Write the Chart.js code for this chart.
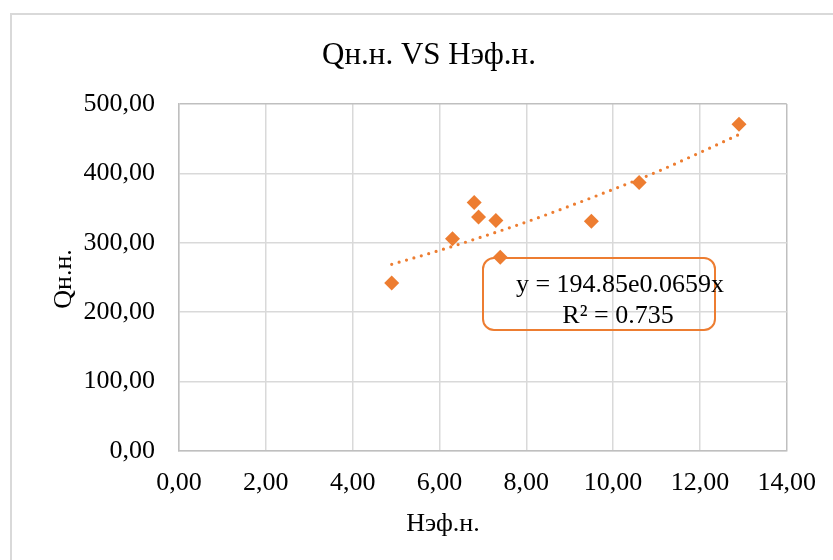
<!DOCTYPE html>
<html>
<head>
<meta charset="utf-8">
<script src="https://cdn.jsdelivr.net/npm/chart.js@4"></script>
<style>
    body { margin: 0; background: #fff; overflow: hidden; }
    #wrap { width: 833px; height: 560px; }
</style>
</head>
<body>
<div id="wrap"><canvas id="chart" width="833" height="560"></canvas></div>
<script>
// Data
const xValues = [4.9, 6.3, 6.8, 6.9, 7.3, 7.4, 9.5, 10.6, 12.9];
const yValues = [242, 306, 358, 337, 332, 279, 331, 387, 471];

// Trend line (exponential, as drawn)
const trendX = [4.9, 6, 7, 8, 9, 10, 11, 12, 12.9];
const trendY = [269, 289, 309, 330, 353, 377, 402, 430, 456];

const xTickLabels = ['0,00', '2,00', '4,00', '6,00', '8,00', '10,00', '12,00', '14,00'];
const yTickLabels = ['0,00', '100,00', '200,00', '300,00', '400,00', '500,00'];

const chartTitle = 'Qн.н. VS Нэф.н.';
const xTitle = 'Нэф.н.';
const yTitle = 'Qн.н.';
const equationLines = ['y = 194.85e0.0659x', 'R² = 0.735'];

const ORANGE = '#ED7D31';
const FONT = '"Liberation Serif", "Times New Roman", serif';

const gridColor = '#d9d9d9';
const edgeColor = '#bfbfbf';

// Excel-like decorations: outer border, titles, equation box
const decor = {
    id: 'decor',
    beforeDraw(chart) {
        const ctx = chart.ctx;
        ctx.save();
        ctx.fillStyle = '#fff';
        ctx.fillRect(0, 0, chart.width, chart.height);
        ctx.strokeStyle = gridColor;
        ctx.lineWidth = 2;
        ctx.strokeRect(11, 14, 1000, 1000);
        ctx.restore();
    },
    beforeDatasetsDraw(chart) {
        const ctx = chart.ctx;
        ctx.save();
        // equation box
        const x0 = 483, y0 = 258, w = 232, h = 72, r = 11;
        ctx.strokeStyle = ORANGE;
        ctx.lineWidth = 2;
        ctx.beginPath();
        ctx.roundRect(x0, y0, w, h, r);
        ctx.stroke();
        ctx.fillStyle = '#000';
        ctx.font = '26px ' + FONT;
        ctx.textAlign = 'center';
        ctx.textBaseline = 'alphabetic';
        ctx.fillText(equationLines[0], 620, 292);
        ctx.fillText(equationLines[1], 618, 323);
        ctx.restore();
    },
    afterDraw(chart) {
        const ctx = chart.ctx;
        ctx.save();
        ctx.fillStyle = '#000';
        ctx.textAlign = 'center';
        ctx.textBaseline = 'alphabetic';
        ctx.font = '31px ' + FONT;
        ctx.fillText(chartTitle, 429, 64);
        ctx.font = '26px ' + FONT;
        ctx.fillText(xTitle, 443, 531);
        ctx.translate(71, 279);
        ctx.rotate(-Math.PI / 2);
        ctx.fillText(yTitle, 0, 0);
        ctx.restore();
    }
};

const ctx = document.getElementById('chart').getContext('2d');

new Chart(ctx, {
    type: 'scatter',
    data: {
        datasets: [{
            type: 'line',
            label: 'Trend',
            data: trendX.map((x, i) => ({ x: x, y: trendY[i] })),
            borderColor: ORANGE,
            borderWidth: 3.2,
            borderDash: [0, 7.7],
            borderCapStyle: 'round',
            cubicInterpolationMode: 'monotone',
            pointRadius: 0,
            fill: false
        }, {
            label: 'Qн.н.',
            data: xValues.map((x, i) => ({ x: x, y: yValues[i] })),
            pointStyle: 'rectRot',
            pointRadius: 7.5,
            pointHoverRadius: 7.5,
            backgroundColor: ORANGE,
            borderColor: ORANGE,
            borderWidth: 0
        }]
    },
    options: {
        responsive: false,
        animation: false,
        layout: {
            padding: { top: 104, right: 45, left: 0, bottom: 0 }
        },
        plugins: {
            legend: { display: false },
            tooltip: { enabled: false }
        },
        scales: {
            x: {
                min: 0,
                max: 14,
                afterFit: (scale) => { scale.height = 109; },
                ticks: {
                    stepSize: 2,
                    padding: 17,
                    color: '#000',
                    font: { family: FONT, size: 26 },
                    callback: (value, index) => xTickLabels[index]
                },
                grid: {
                    drawTicks: false,
                    color: (c) => (c.tick && c.tick.value === 14 ? edgeColor : gridColor),
                    lineWidth: 1.5
                },
                border: { color: edgeColor, width: 1.5 }
            },
            y: {
                min: 0,
                max: 500,
                afterFit: (scale) => { scale.width = 179; },
                ticks: {
                    stepSize: 100,
                    padding: 24,
                    color: '#000',
                    font: { family: FONT, size: 26 },
                    callback: (value, index) => yTickLabels[index]
                },
                grid: {
                    drawTicks: false,
                    color: (c) => (c.tick && c.tick.value === 500 ? edgeColor : gridColor),
                    lineWidth: 1.5
                },
                border: { color: edgeColor, width: 1.5 }
            }
        }
    },
    plugins: [decor]
});
</script>
</body>
</html>
